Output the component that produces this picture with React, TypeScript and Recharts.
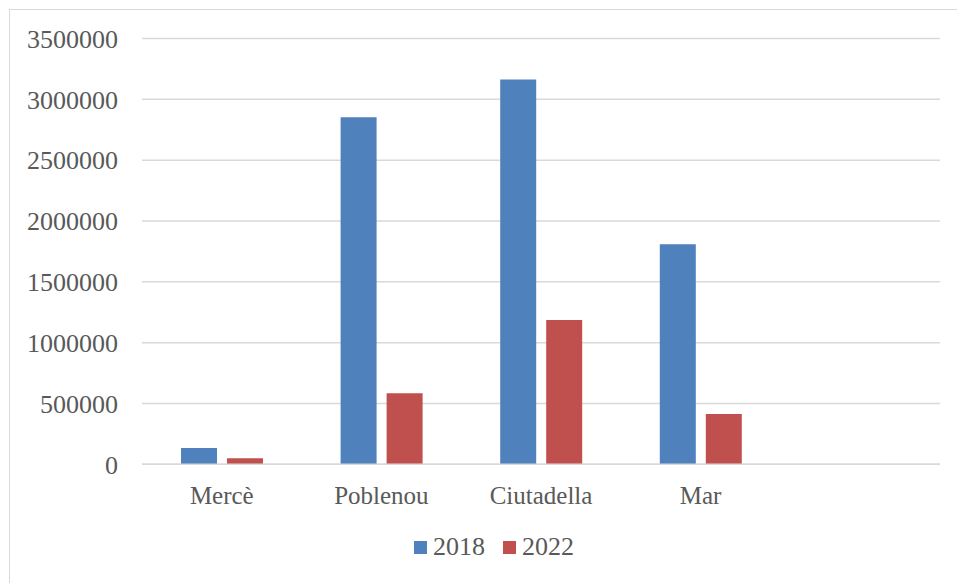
import React from 'react';
import { BarChart, Bar, XAxis, YAxis, CartesianGrid, Legend } from 'recharts';

const categories = ['Mercè', 'Poblenou', 'Ciutadella', 'Mar', ''];
const values2018: (number | null)[] = [134000, 2852000, 3164000, 1808000, null];
const values2022: (number | null)[] = [49000, 584000, 1186000, 413000, null];
const yTicks = [0, 500000, 1000000, 1500000, 2000000, 2500000, 3000000, 3500000];

const seriesNames = ['2018', '2022'];
const seriesColors = ['#4F81BD', '#C0504D'];

const data = categories.map((c, i) => ({
  name: c,
  s2018: values2018[i],
  s2022: values2022[i],
}));

const FONT = '"Liberation Serif", serif';
const TEXT = '#595959';

const LegendContent = () => (
  <div style={{ display: 'flex', alignItems: 'center', fontFamily: FONT, fontSize: 26, color: TEXT, height: 30 }}>
    {seriesNames.map((n, i) => (
      <div key={n} style={{ display: 'flex', alignItems: 'center', marginRight: i === 0 ? 18 : 0 }}>
        <div style={{ width: 13, height: 13, background: seriesColors[i], marginRight: 6 }} />
        <span style={{ lineHeight: '30px' }}>{n}</span>
      </div>
    ))}
  </div>
);

export default function App() {
  return (
    <div
      style={{
        position: 'absolute',
        left: 9,
        top: 9,
        width: 948,
        height: 574,
        borderLeft: '1px solid #d9d9d9',
        borderTop: '1px solid #d9d9d9',
        background: '#fff',
      }}
    >
      <BarChart
        width={940}
        height={570}
        data={data}
        margin={{ top: 28.5, right: 10, left: 0, bottom: 18 }}
        barSize={36}
        barGap={10}
      >
        <CartesianGrid horizontal={true} vertical={false} stroke="#d9d9d9" strokeWidth={1.5} />
        <XAxis
          dataKey="name"
          height={67.7}
          tickLine={false}
          tickSize={0}
          tickMargin={22}
          axisLine={{ stroke: '#d9d9d9', strokeWidth: 1.5 }}
          tick={{ fill: TEXT, fontFamily: FONT, fontSize: 25 }}
          interval={0}
        />
        <YAxis
          width={132}
          domain={[0, 3500000]}
          ticks={yTicks}
          tickLine={false}
          axisLine={false}
          tickSize={0}
          tickMargin={24}
          tick={{ fill: TEXT, fontFamily: FONT, fontSize: 26 }}
          interval={0}
        />
        <Legend
          verticalAlign="bottom"
          content={<LegendContent />}
          wrapperStyle={{ left: 404, width: 200, height: 30, bottom: 18 }}
        />
        <Bar dataKey="s2018" name={seriesNames[0]} fill={seriesColors[0]} isAnimationActive={false} />
        <Bar dataKey="s2022" name={seriesNames[1]} fill={seriesColors[1]} isAnimationActive={false} />
      </BarChart>
    </div>
  );
}
